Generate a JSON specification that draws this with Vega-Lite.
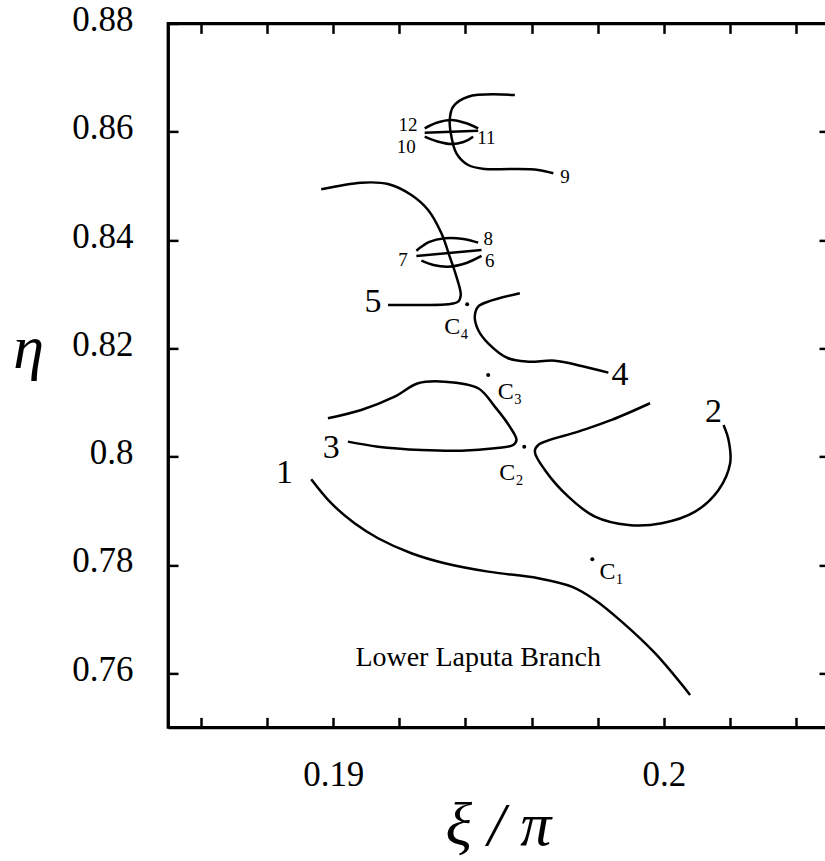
{
  "$schema": "https://vega.github.io/schema/vega-lite/v6.json",
  "width": 661,
  "height": 704,
  "autosize": {"type": "none"},
  "padding": {"left": 168, "top": 23.4, "right": 0, "bottom": 134},
  "background": "white",
  "config": {
    "view": {"stroke": "black", "strokeWidth": 2.8},
    "axis": {
      "grid": false,
      "domainColor": "black",
      "domainWidth": 2.8,
      "tickColor": "black",
      "tickWidth": 2.5,
      "tickSize": -10,
      "labelFont": "Liberation Serif",
      "labelFontSize": 35,
      "labelColor": "black",
      "labelFlush": false,
      "labelOverlap": false
    }
  },
  "datasets": {
    "curves": [
      {"c": "1", "i": 0, "x": 0.189333, "y": 0.795824},
      {"c": "1", "i": 1, "x": 0.189939, "y": 0.791392},
      {"c": "1", "i": 2, "x": 0.190645, "y": 0.7877},
      {"c": "1", "i": 3, "x": 0.191355, "y": 0.78493},
      {"c": "1", "i": 4, "x": 0.192364, "y": 0.78216},
      {"c": "1", "i": 5, "x": 0.193373, "y": 0.780314},
      {"c": "1", "i": 6, "x": 0.194688, "y": 0.778763},
      {"c": "1", "i": 7, "x": 0.196203, "y": 0.777544},
      {"c": "1", "i": 8, "x": 0.197212, "y": 0.775993},
      {"c": "1", "i": 9, "x": 0.197918, "y": 0.773538},
      {"c": "1", "i": 10, "x": 0.198727, "y": 0.769531},
      {"c": "1", "i": 11, "x": 0.199736, "y": 0.763697},
      {"c": "1", "i": 12, "x": 0.200797, "y": 0.755997},
      {"c": "2", "i": 0, "x": 0.199585, "y": 0.809856},
      {"c": "2", "i": 1, "x": 0.198424, "y": 0.806773},
      {"c": "2", "i": 2, "x": 0.197415, "y": 0.804612},
      {"c": "2", "i": 3, "x": 0.196203, "y": 0.802157},
      {"c": "2", "i": 4, "x": 0.1961, "y": 0.80092},
      {"c": "2", "i": 5, "x": 0.196403, "y": 0.797541},
      {"c": "2", "i": 6, "x": 0.197112, "y": 0.792611},
      {"c": "2", "i": 7, "x": 0.197918, "y": 0.788918},
      {"c": "2", "i": 8, "x": 0.19893, "y": 0.787386},
      {"c": "2", "i": 9, "x": 0.199939, "y": 0.7877},
      {"c": "2", "i": 10, "x": 0.200948, "y": 0.789841},
      {"c": "2", "i": 11, "x": 0.201658, "y": 0.793848},
      {"c": "2", "i": 12, "x": 0.202009, "y": 0.798778},
      {"c": "2", "i": 13, "x": 0.201961, "y": 0.80308},
      {"c": "2", "i": 14, "x": 0.201809, "y": 0.805849},
      {"c": "3", "i": 0, "x": 0.189839, "y": 0.807086},
      {"c": "3", "i": 1, "x": 0.190848, "y": 0.808619},
      {"c": "3", "i": 2, "x": 0.191858, "y": 0.811075},
      {"c": "3", "i": 3, "x": 0.192567, "y": 0.813548},
      {"c": "3", "i": 4, "x": 0.193373, "y": 0.813844},
      {"c": "3", "i": 5, "x": 0.194385, "y": 0.812625},
      {"c": "3", "i": 6, "x": 0.194888, "y": 0.809228},
      {"c": "3", "i": 7, "x": 0.195342, "y": 0.805535},
      {"c": "3", "i": 8, "x": 0.195545, "y": 0.80308},
      {"c": "3", "i": 9, "x": 0.195445, "y": 0.802157},
      {"c": "3", "i": 10, "x": 0.194888, "y": 0.801547},
      {"c": "3", "i": 11, "x": 0.193879, "y": 0.801104},
      {"c": "3", "i": 12, "x": 0.192667, "y": 0.801233},
      {"c": "3", "i": 13, "x": 0.191355, "y": 0.801843},
      {"c": "3", "i": 14, "x": 0.190445, "y": 0.802766},
      {"c": "4", "i": 0, "x": 0.195645, "y": 0.830166},
      {"c": "4", "i": 1, "x": 0.194688, "y": 0.828615},
      {"c": "4", "i": 2, "x": 0.194385, "y": 0.827692},
      {"c": "4", "i": 3, "x": 0.194282, "y": 0.825846},
      {"c": "4", "i": 4, "x": 0.194385, "y": 0.82339},
      {"c": "4", "i": 5, "x": 0.194688, "y": 0.820934},
      {"c": "4", "i": 6, "x": 0.195294, "y": 0.818164},
      {"c": "4", "i": 7, "x": 0.1959, "y": 0.817537},
      {"c": "4", "i": 8, "x": 0.196706, "y": 0.817721},
      {"c": "4", "i": 9, "x": 0.197515, "y": 0.816743},
      {"c": "4", "i": 10, "x": 0.198324, "y": 0.815506},
      {"c": "5", "i": 0, "x": 0.189636, "y": 0.849368},
      {"c": "5", "i": 1, "x": 0.190848, "y": 0.850587},
      {"c": "5", "i": 2, "x": 0.191658, "y": 0.850347},
      {"c": "5", "i": 3, "x": 0.192364, "y": 0.848316},
      {"c": "5", "i": 4, "x": 0.19287, "y": 0.845547},
      {"c": "5", "i": 5, "x": 0.193273, "y": 0.841244},
      {"c": "5", "i": 6, "x": 0.193524, "y": 0.836924},
      {"c": "5", "i": 7, "x": 0.193727, "y": 0.833231},
      {"c": "5", "i": 8, "x": 0.193858, "y": 0.829852},
      {"c": "5", "i": 9, "x": 0.193779, "y": 0.828615},
      {"c": "5", "i": 10, "x": 0.193476, "y": 0.828135},
      {"c": "5", "i": 11, "x": 0.192667, "y": 0.828006},
      {"c": "5", "i": 12, "x": 0.191658, "y": 0.828006},
      {"c": "9", "i": 0, "x": 0.195494, "y": 0.86678},
      {"c": "9", "i": 1, "x": 0.194082, "y": 0.866466},
      {"c": "9", "i": 2, "x": 0.193627, "y": 0.86462},
      {"c": "9", "i": 3, "x": 0.193524, "y": 0.862164},
      {"c": "9", "i": 4, "x": 0.193576, "y": 0.859081},
      {"c": "9", "i": 5, "x": 0.193727, "y": 0.856015},
      {"c": "9", "i": 6, "x": 0.194082, "y": 0.853855},
      {"c": "9", "i": 7, "x": 0.194585, "y": 0.853116},
      {"c": "9", "i": 8, "x": 0.195394, "y": 0.853116},
      {"c": "9", "i": 9, "x": 0.196203, "y": 0.852932},
      {"c": "9", "i": 10, "x": 0.196658, "y": 0.852323},
      {"c": "12", "i": 0, "x": 0.192767, "y": 0.860631},
      {"c": "12", "i": 1, "x": 0.193152, "y": 0.861702},
      {"c": "12", "i": 2, "x": 0.193576, "y": 0.862164},
      {"c": "12", "i": 3, "x": 0.194, "y": 0.86161},
      {"c": "12", "i": 4, "x": 0.194385, "y": 0.860631},
      {"c": "11", "i": 0, "x": 0.192767, "y": 0.859819},
      {"c": "11", "i": 1, "x": 0.194385, "y": 0.860188},
      {"c": "10", "i": 0, "x": 0.192767, "y": 0.859081},
      {"c": "10", "i": 1, "x": 0.193152, "y": 0.858194},
      {"c": "10", "i": 2, "x": 0.193576, "y": 0.857732},
      {"c": "10", "i": 3, "x": 0.193939, "y": 0.8581},
      {"c": "10", "i": 4, "x": 0.194233, "y": 0.859081},
      {"c": "8", "i": 0, "x": 0.192515, "y": 0.838032},
      {"c": "8", "i": 1, "x": 0.192909, "y": 0.839638},
      {"c": "8", "i": 2, "x": 0.193373, "y": 0.840321},
      {"c": "8", "i": 3, "x": 0.193939, "y": 0.840192},
      {"c": "8", "i": 4, "x": 0.194385, "y": 0.839509},
      {"c": "7", "i": 0, "x": 0.192515, "y": 0.837053},
      {"c": "7", "i": 1, "x": 0.194485, "y": 0.838161},
      {"c": "6", "i": 0, "x": 0.192667, "y": 0.836185},
      {"c": "6", "i": 1, "x": 0.19303, "y": 0.835391},
      {"c": "6", "i": 2, "x": 0.193476, "y": 0.835078},
      {"c": "6", "i": 3, "x": 0.19403, "y": 0.835761},
      {"c": "6", "i": 4, "x": 0.194485, "y": 0.837053}
    ],
    "points": [
      {"name": "C1", "x": 0.197839, "y": 0.781053},
      {"name": "C2", "x": 0.195779, "y": 0.801843},
      {"name": "C3", "x": 0.194688, "y": 0.815081},
      {"name": "C4", "x": 0.194052, "y": 0.828135}
    ],
    "bigLabels": [
      {"t": "1", "x": 0.188524, "y": 0.796931},
      {"t": "2", "x": 0.201506, "y": 0.808305},
      {"t": "3", "x": 0.189939, "y": 0.801547},
      {"t": "4", "x": 0.198676, "y": 0.815081},
      {"t": "5", "x": 0.191203, "y": 0.828615}
    ],
    "smallLabels": [
      {"t": "6", "x": 0.194736, "y": 0.83613},
      {"t": "7", "x": 0.192112, "y": 0.836315},
      {"t": "8", "x": 0.194688, "y": 0.840192},
      {"t": "9", "x": 0.197009, "y": 0.851695},
      {"t": "10", "x": 0.192212, "y": 0.857234},
      {"t": "11", "x": 0.194636, "y": 0.858785},
      {"t": "12", "x": 0.192264, "y": 0.861241}
    ],
    "cLabels": [
      {"t": "C₁", "x": 0.198424, "y": 0.778763},
      {"t": "C₂", "x": 0.195394, "y": 0.796931},
      {"t": "C₃", "x": 0.195342, "y": 0.811998},
      {"t": "C₄", "x": 0.193727, "y": 0.82394}
    ],
    "note": [
      {"t": "Lower Laputa Branch", "x": 0.194385, "y": 0.762884}
    ]
  },
  "resolve": {"axis": {"x": "independent", "y": "independent"}},
  "layer": [
    {
      "data": {"name": "curves"},
      "mark": {"type": "line", "color": "black", "strokeWidth": 2.5, "interpolate": "catmull-rom"},
      "encoding": {
        "x": {
          "field": "x", "type": "quantitative",
          "scale": {"domain": [0.185, 0.205], "nice": false, "zero": false},
          "axis": {
            "orient": "bottom",
            "values": [0.186, 0.188, 0.19, 0.192, 0.194, 0.196, 0.198, 0.2, 0.202, 0.204],
            "labelExpr": "abs(datum.value - 0.19) < 1e-9 ? '0.19' : (abs(datum.value - 0.2) < 1e-9 ? '0.2' : '')",
            "labelPadding": 40,
            "labelBaseline": "top",
            "title": "ξ / π",
            "titleFont": "Liberation Serif",
            "titleFontStyle": "italic",
            "titleFontWeight": "normal",
            "titleFontSize": 62,
            "titleColor": "black",
            "titleX": 330,
            "titleY": 117,
            "titleBaseline": "alphabetic",
            "titleAlign": "center"
          }
        },
        "y": {
          "field": "y", "type": "quantitative",
          "scale": {"domain": [0.75, 0.88], "nice": false, "zero": false},
          "axis": {
            "orient": "left",
            "values": [0.76, 0.78, 0.8, 0.82, 0.84, 0.86, 0.88],
            "format": "~g",
            "labelPadding": 45,
            "labelOffset": -4,
            "title": "η",
            "titleFont": "Liberation Serif",
            "titleFontStyle": "italic",
            "titleFontWeight": "normal",
            "titleFontSize": 62,
            "titleColor": "black",
            "titleAngle": 0,
            "titleX": -140,
            "titleY": 344,
            "titleBaseline": "alphabetic",
            "titleAlign": "center"
          }
        },
        "detail": {"field": "c"},
        "order": {"field": "i", "type": "quantitative"}
      }
    },
    {
      "data": {"name": "points"},
      "mark": {"type": "circle", "color": "black", "opacity": 1, "size": 16},
      "encoding": {
        "x": {
          "field": "x", "type": "quantitative",
          "axis": {
            "orient": "top",
            "values": [0.186, 0.188, 0.19, 0.192, 0.194, 0.196, 0.198, 0.2, 0.202, 0.204],
            "labels": false,
            "title": null
          }
        },
        "y": {
          "field": "y", "type": "quantitative",
          "axis": {
            "orient": "right",
            "values": [0.76, 0.78, 0.8, 0.82, 0.84, 0.86],
            "labels": false,
            "title": null
          }
        }
      }
    },
    {
      "data": {"name": "bigLabels"},
      "mark": {"type": "text", "font": "Liberation Serif", "fontSize": 34, "color": "black", "align": "center", "baseline": "middle"},
      "encoding": {
        "x": {"field": "x", "type": "quantitative", "axis": null},
        "y": {"field": "y", "type": "quantitative", "axis": null},
        "text": {"field": "t"}
      }
    },
    {
      "data": {"name": "smallLabels"},
      "mark": {"type": "text", "font": "Liberation Serif", "fontSize": 19, "color": "black", "align": "center", "baseline": "middle"},
      "encoding": {
        "x": {"field": "x", "type": "quantitative", "axis": null},
        "y": {"field": "y", "type": "quantitative", "axis": null},
        "text": {"field": "t"}
      }
    },
    {
      "data": {"name": "cLabels"},
      "mark": {"type": "text", "font": "Liberation Serif", "fontSize": 24, "color": "black", "align": "center", "baseline": "middle"},
      "encoding": {
        "x": {"field": "x", "type": "quantitative", "axis": null},
        "y": {"field": "y", "type": "quantitative", "axis": null},
        "text": {"field": "t"}
      }
    },
    {
      "data": {"name": "note"},
      "mark": {"type": "text", "font": "Liberation Serif", "fontSize": 28, "color": "black", "align": "center", "baseline": "middle"},
      "encoding": {
        "x": {"field": "x", "type": "quantitative", "axis": null},
        "y": {"field": "y", "type": "quantitative", "axis": null},
        "text": {"field": "t"}
      }
    }
  ]
}
